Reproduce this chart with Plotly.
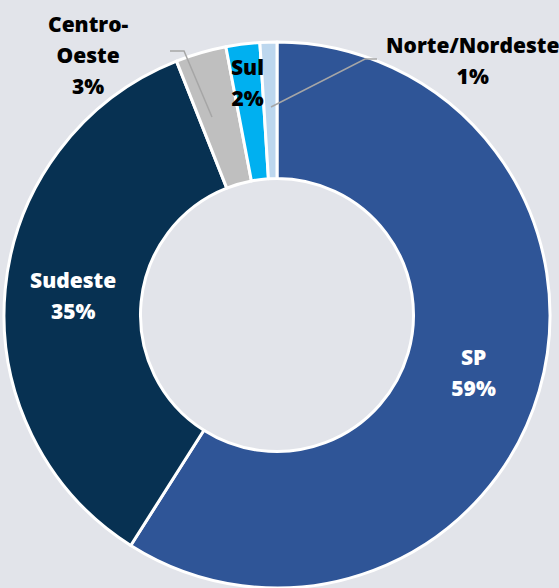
import plotly.graph_objects as go

# Dados
regioes = ['SP', 'Sudeste', 'Centro-Oeste', 'Sul', 'Norte/Nordeste']
participacao = [59, 35, 3, 2, 1]
cores = ['#2F5597', '#073152', '#BFBFBF', '#00B0F0', '#BDD7EE']
posicao_texto = ['inside', 'inside', 'none', 'none', 'none']

W, H = 559, 588
FS = 21  # tamanho visível do texto


def paper(x, y):
    # pixels (origem no topo) -> coordenadas paper
    return x / W, 1 - y / H


def linhas(*partes):
    return '<br>'.join(f"<span style='font-size:{FS}px'>{p}</span>" for p in partes)


fig = go.Figure()

fig.add_trace(go.Pie(
    labels=regioes,
    values=participacao,
    hole=0.5,
    sort=False,
    direction='clockwise',
    rotation=0,
    marker=dict(colors=cores, line=dict(color='white', width=3)),
    textposition=posicao_texto,
    texttemplate=linhas('%{label}', '%{percent}'),
    insidetextorientation='horizontal',
    insidetextfont=dict(family='Open Sans', size=24, color='white', weight=800),
    domain=dict(x=[4 / W, 550 / W], y=[0, 546 / H]),
    showlegend=False,
    hoverinfo='label+percent',
))

# rótulos das fatias pequenas (fora do anel)
pos_rotulos = {'Centro-Oeste': (88, 55), 'Sul': (247, 82), 'Norte/Nordeste': (472, 61)}
for nome, val in zip(regioes, participacao):
    if nome not in pos_rotulos:
        continue
    partes = nome.replace('-', '-\n').split('\n') + [f'{val}%']
    px, py = paper(*pos_rotulos[nome])
    fig.add_annotation(
        x=px, y=py, xref='paper', yref='paper',
        text=linhas(*partes),
        showarrow=False, xanchor='center', yanchor='middle', align='center',
        font=dict(family='Open Sans', size=24, color='black', weight=800),
    )

# linhas de chamada
conectores = [
    [(170, 51), (184, 51), (212, 117)],
    [(377, 59), (365, 59), (271, 107)],
]
for pts in conectores:
    p = [paper(x, y) for x, y in pts]
    caminho = 'M ' + ' L '.join(f'{x:.4f},{y:.4f}' for x, y in p)
    fig.add_shape(type='path', path=caminho, xref='paper', yref='paper',
                  line=dict(color='#A6A6A6', width=1.5), layer='above')

fig.update_layout(
    width=W, height=H,
    margin=dict(l=0, r=0, t=0, b=0),
    paper_bgcolor='#E2E4EA',
    plot_bgcolor='#E2E4EA',
)

fig.write_html('out.html', config={'displayModeBar': False},
               post_script="document.body.style.margin='0';")
